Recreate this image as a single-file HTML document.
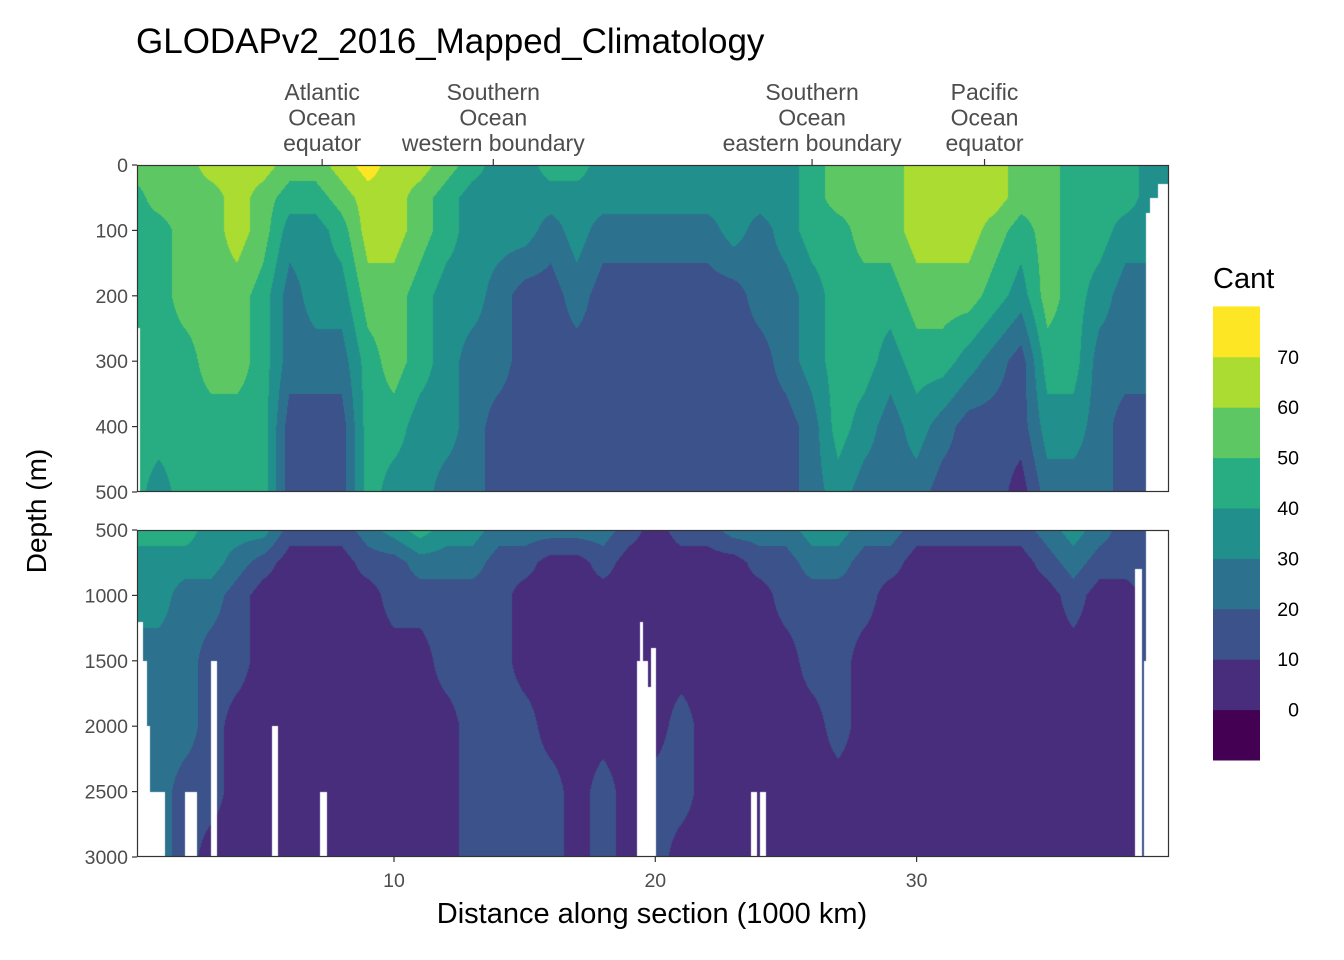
<!DOCTYPE html>
<html><head><meta charset="utf-8">
<style>
html,body{margin:0;padding:0;background:#fff;}
body{width:1344px;height:960px;position:relative;overflow:hidden;font-family:"Liberation Sans",sans-serif;}
.t{position:absolute;white-space:nowrap;}
canvas{position:absolute;}
</style></head>
<body>
<div class="t" style="left:136px;top:22px;font-size:35px;color:#000;">GLODAPv2_2016_Mapped_Climatology</div>
<canvas id="cu" style="left:137px;top:165px" width="1032" height="327"></canvas>
<canvas id="cl" style="left:137px;top:530px" width="1032" height="327"></canvas>
<svg id="ov" width="1344" height="960" style="position:absolute;left:0;top:0"></svg>
<script>
// ---- data ----
const xs=[0,1,2,3,4,5,6,7,8,9,10,11,12,13,14,15,16,17,18,19,20,21,22,23,24,25,26,27,28,29,30,31,32,33,34,35,36,37,38,39];
const upperDepths=[0,50,100,200,300,400,500];
const lowerDepths=[500,750,1000,1500,2000,2500,3000];
const upperVals=[
[55,45,45,45,45,45,45],[55,55,45,45,45,45,35],[55,55,55,55,45,45,45],[65,55,55,55,55,45,45],
[65,65,65,55,55,45,45],[65,55,55,45,45,45,45],[55,45,35,25,25,15,15],[55,45,35,35,25,15,15],
[65,55,45,35,25,15,15],[75,65,65,55,45,45,45],[65,65,65,55,55,45,35],[65,55,55,45,45,35,35],
[55,45,45,35,35,35,25],[45,35,35,35,25,25,25],[35,35,35,25,25,15,15],[35,35,35,15,15,15,15],
[45,35,25,15,15,15,15],[45,35,35,25,15,15,15],[35,35,25,15,15,15,15],[35,35,25,15,15,15,15],
[35,35,25,15,15,15,15],[35,35,25,15,15,15,15],[35,35,25,15,15,15,15],[35,35,35,15,15,15,15],
[35,35,25,25,15,15,15],[35,35,35,25,25,15,15],[45,45,45,35,35,25,25],[55,55,45,45,45,45,35],
[55,55,55,45,45,35,25],[55,55,55,45,35,25,25],[65,65,65,55,45,35,25],[65,65,65,55,45,25,15],
[65,65,65,55,35,15,15],[65,65,55,45,25,15,15],[55,55,45,35,15,15,5],[55,55,55,55,45,35,25],
[45,45,45,45,45,35,25],[45,45,45,35,25,25,25],[45,45,35,25,25,15,15],[35,35,35,25,25,15,15]];
const lowerVals=[
[45,35,35,25,25,25,25],[45,35,35,25,25,25,25],[45,35,25,25,25,15,15],[35,35,25,15,15,15,5],
[35,25,15,15,5,5,5],[35,15,5,5,5,5,5],[15,5,5,5,5,5,5],[15,5,5,5,5,5,5],
[15,5,5,5,5,5,5],[25,15,5,5,5,5,5],[35,15,15,5,5,5,5],[45,25,15,5,5,5,5],
[35,25,15,15,5,5,5],[35,25,15,15,15,15,15],[25,15,15,15,15,15,15],[25,15,5,5,15,15,15],
[25,5,5,5,5,15,15],[25,5,5,5,5,5,5],[25,15,5,5,5,15,15],[15,5,5,5,5,5,5],
[5,5,5,5,5,15,15],[15,5,5,5,15,15,5],[15,5,5,5,5,5,5],[25,5,5,5,5,5,5],
[25,15,5,5,5,5,5],[25,15,15,5,5,5,5],[35,25,15,15,5,5,5],[35,25,15,15,15,5,5],
[25,15,15,5,5,5,5],[25,15,5,5,5,5,5],[15,5,5,5,5,5,5],[15,5,5,5,5,5,5],
[15,5,5,5,5,5,5],[15,5,5,5,5,5,5],[15,5,5,5,5,5,5],[25,15,5,5,5,5,5],
[35,25,15,5,5,5,5],[25,15,5,5,5,5,5],[15,15,5,5,5,5,5],[15,15,15,15,15,15,15]];
const upperGaps=[[0,0.28,250],[38.78,38.93,73],[38.93,39.24,50],[39.24,39.8,29]];
const lowerGaps=[[0,0.39,1200],[0.39,0.55,1500],[0.55,0.66,2000],[0.66,1.24,2500],[2.0,2.46,2500],
[3.0,3.23,1500],[5.33,5.56,2000],[7.17,7.44,2500],[19.3,19.41,1500],[19.41,19.52,1200],[19.52,19.71,1500],
[19.71,19.83,1700],[19.83,20.02,1400],[23.66,23.89,2500],[24.0,24.24,2500],[38.36,38.63,800],
[38.71,38.78,1500],[38.78,39.8,500]];
const levelColors=["#440154","#472D7B","#3B528B","#2C728E","#21908C","#27AD81","#5DC863","#AADC32","#FDE725"];
const legendLabels=["0","10","20","30","40","50","60","70"];
const xTicks=[10,20,30];
const upperTicks=[0,100,200,300,400,500];
const lowerTicks=[500,1000,1500,2000,2500,3000];
const regions=[[7.25,"Atlantic","Ocean","equator"],[13.8,"Southern","Ocean","western boundary"],[26.0,"Southern","Ocean","eastern boundary"],[32.6,"Pacific","Ocean","equator"]];

// ---- scales ----
const X0=132.7,XS=26.13;
const sx=x=>X0+x*XS;
const syU=d=>165+d*0.654;
const syL=d=>530+(d-500)*0.1308;

function interp(vals,depths,x,d){
  let i=Math.floor(x); if(i<0)i=0; if(i>xs.length-2)i=xs.length-2;
  let fx=Math.min(1,Math.max(0,x-i));
  let j=0; while(j<depths.length-2&&d>depths[j+1])j++;
  let fd=Math.min(1,Math.max(0,(d-depths[j])/(depths[j+1]-depths[j])));
  const a=vals[i][j]*(1-fd)+vals[i][j+1]*fd;
  const b=vals[i+1][j]*(1-fd)+vals[i+1][j+1]*fd;
  return a*(1-fx)+b*fx;
}
function colorOf(v){let k=Math.floor(v/10)+1;if(k<0)k=0;if(k>8)k=8;return levelColors[k];}
function render(id,vals,depths,gaps){
  const c=document.getElementById(id),g=c.getContext('2d');
  const W=c.width,H=c.height;
  const d0=depths[0],d1=depths[depths.length-1];
  for(let py=0;py<H;py++){
    const d=d0+(py+0.5)/H*(d1-d0);
    let last=null,start=0;
    for(let px=0;px<=W;px++){
      let col=null;
      if(px<W){
        const x=(137+px+0.5-X0)/XS;
        let gap=false;
        for(const gp of gaps){if(x>=gp[0]&&x<gp[1]&&d>=gp[2]){gap=true;break;}}
        col=gap?"#ffffff":colorOf(interp(vals,depths,x,d));
      }
      if(col!==last){
        if(last!==null){g.fillStyle=last;g.fillRect(start,py,px-start,1);}
        last=col;start=px;
      }
    }
  }
}
render('cu',upperVals,upperDepths,upperGaps);
render('cl',lowerVals,lowerDepths,lowerGaps);

// ---- overlay ----
const NS="http://www.w3.org/2000/svg",ov=document.getElementById('ov');
function mk(tag,attrs,txt){const e=document.createElementNS(NS,tag);for(const k in attrs)e.setAttribute(k,attrs[k]);if(txt!==undefined)e.textContent=txt;ov.appendChild(e);return e;}
let e;
e=mk('rect',{x:137.5,y:165.5,width:1031,height:326,fill:'none',stroke:'#333','stroke-width':1.2});


e=mk('rect',{x:137.5,y:530.5,width:1031,height:326,fill:'none',stroke:'#333','stroke-width':1.2});


upperTicks.forEach(t=>{
  const y=syU(t);
  e=mk('line',{x1:132,x2:137,y1:y,y2:y,stroke:'#333','stroke-width':1.2});
  
  
  e=mk('text',{x:128,y:y+7,'text-anchor':'end','font-size':19.5,fill:'#4d4d4d','font-family':'Liberation Sans'},t);
  
  
});
lowerTicks.forEach(t=>{
  const y=syL(t);
  e=mk('line',{x1:132,x2:137,y1:y,y2:y,stroke:'#333','stroke-width':1.2});
  
  
  e=mk('text',{x:128,y:y+7,'text-anchor':'end','font-size':19.5,fill:'#4d4d4d','font-family':'Liberation Sans'},t);
  
  
});
xTicks.forEach(t=>{
  const x=sx(t);
  e=mk('line',{x1:x,x2:x,y1:857,y2:862,stroke:'#333','stroke-width':1.2});
  
  
  e=mk('text',{x:x,y:887,'text-anchor':'middle','font-size':19.5,fill:'#4d4d4d','font-family':'Liberation Sans'},t);
  
  
});
regions.forEach(r=>{
  const x=sx(r[0]);
  e=mk('line',{x1:x,x2:x,y1:159,y2:165,stroke:'#333','stroke-width':1.2});
  
  
  [r[1],r[2],r[3]].forEach((s,i)=>{
    e=mk('text',{x:x,y:100+i*25.5,'text-anchor':'middle','font-size':23,fill:'#4d4d4d','font-family':'Liberation Sans'},s);
    
    
  });
});
e=mk('text',{x:652,y:923,'text-anchor':'middle','font-size':29,fill:'#000','font-family':'Liberation Sans'},'Distance along section (1000 km)');


e=mk('text',{x:0,y:0,'text-anchor':'middle','font-size':28,fill:'#000','font-family':'Liberation Sans',transform:'translate(46,511) rotate(-90)'},'Depth (m)');


e=mk('text',{x:1213,y:288,'font-size':29,fill:'#000','font-family':'Liberation Sans'},'Cant');


const LB=760,LH=50.4;
levelColors.forEach((c,i)=>{
  e=mk('rect',{x:1213,y:LB-(i+1)*LH,width:47,height:LH+0.5,fill:c});
  
  
});
legendLabels.forEach((s,i)=>{
  const y=LB-(i+1)*LH;
  e=mk('text',{x:1299,y:y+7,'text-anchor':'end','font-size':19.5,fill:'#000','font-family':'Liberation Sans'},s);
  
  
});
</script>
</body></html>
